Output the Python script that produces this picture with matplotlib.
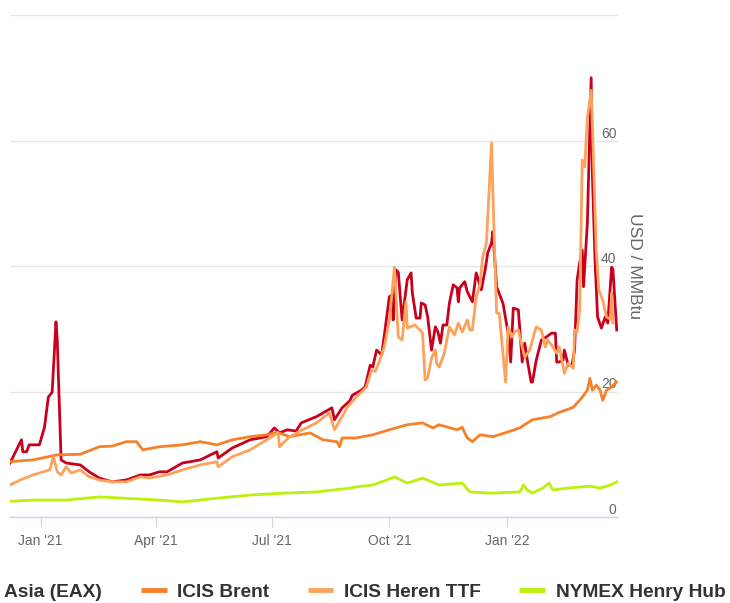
import matplotlib
matplotlib.use("Agg")
import matplotlib.pyplot as plt
import matplotlib.font_manager as fm
import pandas as pd

# ---------------- data ----------------
eax_dates = ["2020-12-08", "2020-12-17", "2020-12-18", "2020-12-21", "2020-12-23", "2020-12-31",
             "2021-01-04", "2021-01-07", "2021-01-10", "2021-01-13", "2021-01-14", "2021-01-17",
             "2021-01-21", "2021-02-01", "2021-02-08", "2021-02-16", "2021-02-26", "2021-03-09",
             "2021-03-20", "2021-03-27", "2021-04-04", "2021-04-10", "2021-04-22", "2021-05-06",
             "2021-05-19", "2021-05-20", "2021-05-31", "2021-06-14", "2021-06-27", "2021-07-03",
             "2021-07-07", "2021-07-13", "2021-07-20", "2021-07-24", "2021-08-05", "2021-08-17",
             "2021-08-19", "2021-08-25", "2021-08-31", "2021-09-02", "2021-09-09", "2021-09-12",
             "2021-09-16", "2021-09-18", "2021-09-21", "2021-09-25", "2021-10-01", "2021-10-03",
             "2021-10-04", "2021-10-06", "2021-10-08", "2021-10-11", "2021-10-15", "2021-10-18",
             "2021-10-19", "2021-10-22", "2021-10-25", "2021-10-26", "2021-10-29", "2021-10-31",
             "2021-11-03", "2021-11-06", "2021-11-08", "2021-11-10", "2021-11-12", "2021-11-15",
             "2021-11-17", "2021-11-20", "2021-11-23", "2021-11-24", "2021-11-25", "2021-11-29",
             "2021-12-01", "2021-12-05", "2021-12-08", "2021-12-12", "2021-12-15", "2021-12-17",
             "2021-12-20", "2021-12-21", "2021-12-24", "2021-12-29", "2022-01-02", "2022-01-04",
             "2022-01-06", "2022-01-10", "2022-01-13", "2022-01-15", "2022-01-17", "2022-01-20",
             "2022-01-21", "2022-01-24", "2022-01-28", "2022-02-01", "2022-02-05", "2022-02-08",
             "2022-02-09", "2022-02-11", "2022-02-14", "2022-02-15", "2022-02-18", "2022-02-21",
             "2022-02-23", "2022-02-25", "2022-02-27", "2022-03-01", "2022-03-02", "2022-03-05",
             "2022-03-08", "2022-03-09", "2022-03-11", "2022-03-13", "2022-03-16", "2022-03-19",
             "2022-03-21", "2022-03-24", "2022-03-25", "2022-03-28"]
eax_values = [8.6, 12.3, 10.4, 10.4, 11.5, 11.5,
              14.3, 19.1, 19.9, 31.1, 28.2, 9.1,
              8.6, 8.3, 7.2, 6.2, 5.6, 5.9,
              6.7, 6.7, 7.2, 7.2, 8.6, 9.1,
              10.4, 9.4, 11.0, 12.3, 12.8, 14.2,
              13.4, 13.9, 13.7, 15.0, 16.0, 17.4,
              15.5, 17.4, 18.5, 19.4, 20.2, 20.7,
              24.2, 23.9, 26.6, 25.8, 35.1, 35.4,
              31.4, 39.4, 39.0, 31.4, 37.8, 38.9,
              35.7, 31.7, 31.7, 34.1, 33.8, 31.9,
              26.6, 30.3, 29.5, 27.7, 30.6, 30.6,
              34.1, 37.0, 36.5, 34.3, 36.5, 37.5,
              35.9, 34.3, 38.9, 36.2, 39.4, 42.1,
              43.7, 45.5, 36.7, 34.0, 29.3, 24.7,
              33.3, 33.0, 24.7, 27.7, 25.0, 21.5,
              21.5, 25.0, 28.2, 28.7, 29.3, 29.3,
              24.7, 24.7, 25.0, 26.6, 24.2, 24.2,
              26.6, 37.8, 40.5, 42.5, 36.7, 46.8,
              70.0, 54.2, 41.0, 31.9, 30.1, 31.9,
              30.9, 39.8, 39.5, 29.8]

brent_dates = ["2020-12-08", "2020-12-26", "2021-01-14", "2021-02-01", "2021-02-16", "2021-02-26",
               "2021-03-09", "2021-03-17", "2021-03-22", "2021-04-04", "2021-04-22", "2021-05-06",
               "2021-05-19", "2021-05-31", "2021-06-14", "2021-06-27", "2021-07-05", "2021-07-15",
               "2021-07-31", "2021-08-10", "2021-08-21", "2021-08-23", "2021-08-25", "2021-09-05",
               "2021-09-18", "2021-10-01", "2021-10-15", "2021-10-27", "2021-11-04", "2021-11-09",
               "2021-11-23", "2021-11-27", "2021-12-01", "2021-12-05", "2021-12-11", "2021-12-21",
               "2022-01-01", "2022-01-11", "2022-01-21", "2022-02-04", "2022-02-10", "2022-02-17",
               "2022-02-22", "2022-02-27", "2022-03-01", "2022-03-05", "2022-03-07", "2022-03-09",
               "2022-03-12", "2022-03-15", "2022-03-17", "2022-03-20", "2022-03-23", "2022-03-25",
               "2022-03-28"]
brent_values = [8.8, 9.1, 9.9, 10.0, 11.2, 11.3,
                12.0, 12.0, 10.7, 11.2, 11.5, 12.0,
                11.5, 12.3, 12.8, 13.1, 13.5, 12.8,
                13.4, 12.3, 12.0, 11.2, 12.6, 12.6,
                13.1, 13.9, 14.7, 15.0, 14.2, 14.7,
                13.9, 14.3, 12.6, 12.0, 13.1, 12.8,
                13.5, 14.2, 15.5, 16.0, 16.6, 17.1,
                17.5, 18.6, 19.1, 20.2, 22.1, 20.2,
                21.0, 20.2, 18.6, 20.2, 20.6, 21.0,
                21.5]

ttf_dates = ["2020-12-08", "2020-12-16", "2020-12-26", "2021-01-03", "2021-01-08", "2021-01-11",
             "2021-01-14", "2021-01-17", "2021-01-21", "2021-01-25", "2021-02-01", "2021-02-08",
             "2021-02-16", "2021-02-26", "2021-03-09", "2021-03-20", "2021-03-27", "2021-04-10",
             "2021-04-22", "2021-05-06", "2021-05-19", "2021-05-20", "2021-05-31", "2021-06-14",
             "2021-06-27", "2021-07-06", "2021-07-07", "2021-07-15", "2021-07-25", "2021-08-05",
             "2021-08-15", "2021-08-19", "2021-08-25", "2021-08-29", "2021-09-05", "2021-09-13",
             "2021-09-17", "2021-09-20", "2021-09-23", "2021-09-27", "2021-10-01", "2021-10-05",
             "2021-10-08", "2021-10-11", "2021-10-14", "2021-10-15", "2021-10-21", "2021-10-25",
             "2021-10-27", "2021-10-29", "2021-10-31", "2021-11-03", "2021-11-06", "2021-11-07",
             "2021-11-09", "2021-11-13", "2021-11-17", "2021-11-21", "2021-11-24", "2021-11-27",
             "2021-12-01", "2021-12-03", "2021-12-05", "2021-12-08", "2021-12-11", "2021-12-13",
             "2021-12-16", "2021-12-20", "2021-12-22", "2021-12-24", "2021-12-26", "2021-12-31",
             "2022-01-02", "2022-01-05", "2022-01-07", "2022-01-10", "2022-01-13", "2022-01-15",
             "2022-01-19", "2022-01-21", "2022-01-24", "2022-01-28", "2022-01-31", "2022-02-02",
             "2022-02-05", "2022-02-09", "2022-02-11", "2022-02-15", "2022-02-18", "2022-02-22",
             "2022-02-23", "2022-02-25", "2022-02-27", "2022-03-01", "2022-03-03", "2022-03-05",
             "2022-03-08", "2022-03-09", "2022-03-12", "2022-03-14", "2022-03-17", "2022-03-20",
             "2022-03-23", "2022-03-24", "2022-03-25"]
ttf_values = [5.1, 5.9, 6.7, 7.2, 7.5, 9.6,
              7.2, 6.7, 8.0, 7.0, 7.5, 6.4,
              5.9, 5.6, 5.6, 6.4, 6.2, 6.7,
              7.5, 8.3, 8.8, 8.0, 9.6, 10.7,
              12.3, 13.4, 11.2, 12.8, 13.9, 15.0,
              16.6, 13.9, 16.0, 17.5, 19.1, 20.7,
              23.4, 23.2, 24.7, 27.1, 31.4, 39.8,
              28.7, 28.2, 34.3, 30.1, 30.6, 29.8,
              29.3, 21.8, 22.2, 25.3, 26.6, 24.5,
              23.9, 26.1, 30.3, 29.0, 30.9, 29.5,
              31.4, 29.8, 29.8, 35.1, 37.0, 41.4,
              43.7, 59.6, 45.0, 32.5, 32.5, 21.5,
              30.3, 28.7, 29.5, 29.8, 27.1, 25.5,
              26.6, 28.2, 30.3, 29.8, 27.1, 28.2,
              27.4, 26.1, 27.1, 22.9, 24.5, 23.7,
              29.8, 29.5, 33.0, 56.9, 55.8, 63.6,
              68.0, 62.2, 42.5, 36.2, 34.6, 31.9,
              31.5, 35.7, 30.9]

hh_dates = ["2020-12-08", "2020-12-26", "2021-01-21", "2021-02-16", "2021-04-04", "2021-04-22",
            "2021-05-19", "2021-06-14", "2021-07-10", "2021-08-05", "2021-08-31", "2021-09-05",
            "2021-09-18", "2021-09-29", "2021-10-05", "2021-10-15", "2021-10-27", "2021-11-09",
            "2021-11-27", "2021-12-03", "2021-12-19", "2022-01-11", "2022-01-13", "2022-01-14",
            "2022-01-17", "2022-01-21", "2022-01-29", "2022-02-03", "2022-02-06", "2022-02-17",
            "2022-03-07", "2022-03-15", "2022-03-23", "2022-03-28"]
hh_values = [2.5, 2.7, 2.7, 3.2, 2.7, 2.4,
             3.0, 3.5, 3.8, 4.0, 4.6, 4.8,
             5.1, 5.9, 6.4, 5.4, 6.2, 5.1,
             5.4, 4.0, 3.8, 4.0, 4.6, 5.1,
             4.3, 3.8, 4.6, 5.4, 4.3, 4.6,
             4.9, 4.6, 5.1, 5.6]

series_names = ["Asia (EAX)", "ICIS Brent", "ICIS Heren TTF", "NYMEX Henry Hub"]
series_colors = ["#c8001e", "#f7802a", "#fca25a", "#bdf00a"]

x_range = ["2020-12-08", "2022-03-29"]
tick_dates = ["2021-01-01", "2021-04-01", "2021-07-01", "2021-10-01", "2022-01-01"]
tick_labels = ["Jan '21", "Apr '21", "Jul '21", "Oct '21", "Jan '22"]
y_ticks = [0, 20, 40, 60, 80]
y_tick_labels = ["0", "20", "40", "60", ""]
y_title = "USD / MMBtu"

# ---------------- fonts ----------------
names = {f.name for f in fm.fontManager.ttflist}
if "Liberation Sans Narrow" in names:
    narrow = "Liberation Sans Narrow"
    legend_size = 16.8
    tick_size = 11
else:
    narrow = "Liberation Sans"
    legend_size = 13.8
    tick_size = 10
regular = "Liberation Sans"

# ---------------- figure ----------------
fig = plt.figure(figsize=(7.30, 6.03), dpi=100)
ax = fig.add_axes([10 / 730, 86 / 603, 608 / 730, 502 / 603])

all_data = [(eax_dates, eax_values), (brent_dates, brent_values),
            (ttf_dates, ttf_values), (hh_dates, hh_values)]
handles = []
for i, ((d, v), name, col) in enumerate(zip(all_data, series_names, series_colors)):
    ln, = ax.plot(pd.to_datetime(d), v, color=col, lw=2.0, label=name,
                  solid_joinstyle="round", zorder=3 + i)
    handles.append(ln)

ax.set_xlim(pd.to_datetime(x_range[0]), pd.to_datetime(x_range[1]))
ax.set_ylim(0, 80)

for s in ["top", "left", "right"]:
    ax.spines[s].set_visible(False)
ax.spines["bottom"].set_color("#ccd6eb")
ax.spines["bottom"].set_linewidth(1.0)
ax.spines["bottom"].set_zorder(2)

ax.set_xticks(pd.to_datetime(tick_dates))
ax.set_xticklabels(tick_labels, fontsize=tick_size, color="#666666", family=narrow)
ax.tick_params(axis="x", length=7, width=0.8, color="#ccd6eb", pad=5)

ax.set_yticks(y_ticks)
ax.set_yticklabels(y_tick_labels, fontsize=tick_size, color="#666666", family=narrow)
ax.yaxis.tick_right()
ax.tick_params(axis="y", length=0, pad=-1.0)
for lab in ax.get_yticklabels():
    lab.set_horizontalalignment("right")
    lab.set_verticalalignment("bottom")
    lab.set_zorder(10)

ax.yaxis.grid(True, color="#e6e6e6", lw=1.0, zorder=0)
ax.set_axisbelow(True)

fig.text(635 / 730, 1 - 266 / 603, y_title, rotation=270, ha="center", va="center",
         fontsize=12.5, color="#666666", family=regular)

leg = fig.legend(handles=handles, loc="center left",
                 bbox_to_anchor=(-32 / 730, 1 - 592 / 603), ncol=4, frameon=False,
                 borderpad=0, borderaxespad=0,
                 prop={"family": narrow, "weight": "bold", "size": legend_size},
                 handlelength=1.35, handletextpad=0.55, columnspacing=2.0)
for t in leg.get_texts():
    t.set_color("#333333")
for h in leg.legend_handles:
    h.set_linewidth(3.5)
    h.set_solid_capstyle("butt")

fig.savefig("out.png", dpi=100)
